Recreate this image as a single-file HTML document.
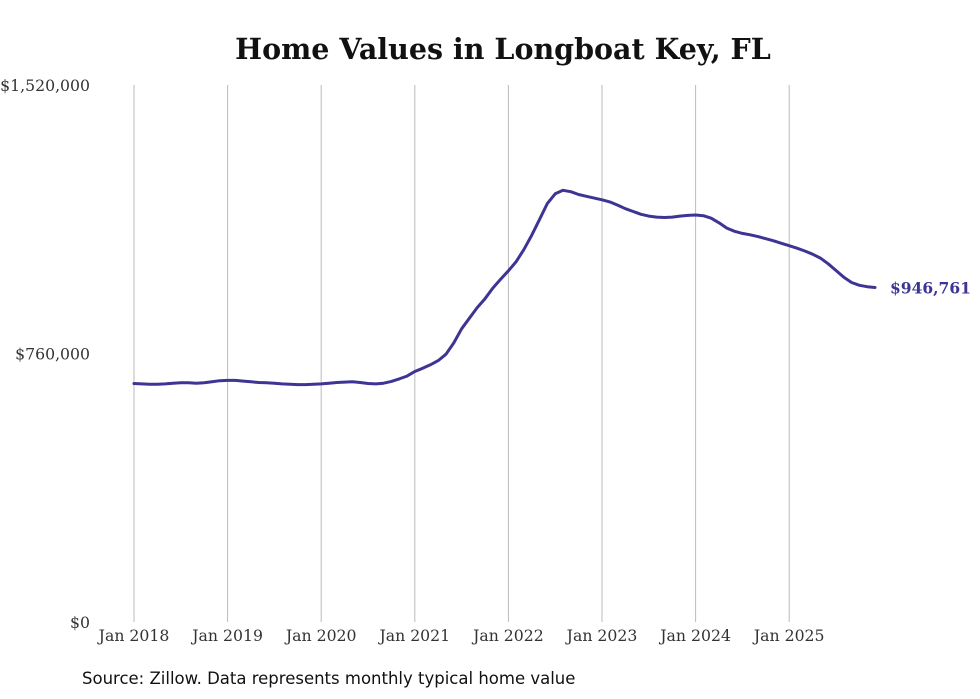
<!DOCTYPE html>
<html><head><meta charset="utf-8"><style>
body{margin:0;background:#fff;width:980px;height:699px;overflow:hidden}
svg{display:block}
</style></head><body>
<svg id="chart" width="980" height="699">
<text x="503" y="59" text-anchor="middle" font-family="'DejaVu Serif',serif" font-weight="bold" font-size="28.5" fill="#111">Home Values in Longboat Key, FL</text>
<g id="grid"></g>
<g id="yaxis"></g>
<g id="xaxis"></g>
<g id="series"></g>
<text x="82" y="684" font-family="'DejaVu Sans',sans-serif" font-size="16.5" fill="#111">Source: Zillow. Data represents monthly typical home value</text>
</svg>
<script>
const years = [2018,2019,2020,2021,2022,2023,2024,2025];
const yTicks = [0,760000,1520000];
const yTickLabels = ["$0","$760,000","$1,520,000"];
const values = [
675,674,673,673,674,676,677,677,676,677,680,683,
684,684,682,680,678,677,676,674,673,672,672,673,
674,676,678,679,680,678,675,674,676,681,688,696,
709,718,728,740,758,790,830,860,890,915,945,970,
994,1020,1055,1095,1140,1185,1212,1222,1218,1210,1205,1200,
1195,1189,1180,1170,1162,1154,1149,1146,1145,1146,1149,1151,
1152,1150,1143,1130,1115,1106,1100,1096,1091,1085,1079,1072,
1065,1058,1050,1041,1030,1014,995,976,961,953,949,946.761
];
const lastLabel = "$946,761";
const NS="http://www.w3.org/2000/svg";
const x0=134,pxPerYear=93.6,yBase=622,yTop=85,yMax=1520000;
const xScale=m=>x0+m*pxPerYear/12;
const yScale=v=>yBase-(v/yMax)*(yBase-yTop);
function mk(tag,attrs,parent){const e=document.createElementNS(NS,tag);for(const k in attrs)e.setAttribute(k,attrs[k]);parent.appendChild(e);return e;}
const grid=document.getElementById('grid'),xa=document.getElementById('xaxis'),ya=document.getElementById('yaxis'),se=document.getElementById('series');
years.forEach((yr,i)=>{
  const x=xScale(i*12);
  const l=mk('line',{x1:x,x2:x,y1:yTop,y2:yBase,stroke:'#bbb','stroke-width':1},grid);
  
  
  const t=mk('text',{x:x,y:641,'text-anchor':'middle','font-family':"'DejaVu Serif',serif",'font-size':15.7,fill:'#333'},xa);
  t.textContent='Jan '+yr;
  
  
});
yTicks.forEach((v,i)=>{
  const t=mk('text',{x:90,y:yScale(v)+6,'text-anchor':'end','font-family':"'DejaVu Serif',serif",'font-size':15.7,fill:'#333'},ya);
  t.textContent=yTickLabels[i];
  
  
});
let d='';
values.forEach((v,i)=>{d+=(i?'L':'M')+xScale(i).toFixed(1)+','+yScale(v*1000).toFixed(1);});
const p=mk('path',{d:d,fill:'none',stroke:'#3d3494','stroke-width':3,'stroke-linejoin':'round','stroke-linecap':'round'},se);


const li=values.length-1;
const lt=mk('text',{x:xScale(li)+15,y:yScale(values[li]*1000)+6,'font-family':"'DejaVu Serif',serif",'font-weight':'bold','font-size':15.5,fill:'#3d3494'},se);
lt.textContent=lastLabel;


</script>
</body></html>
